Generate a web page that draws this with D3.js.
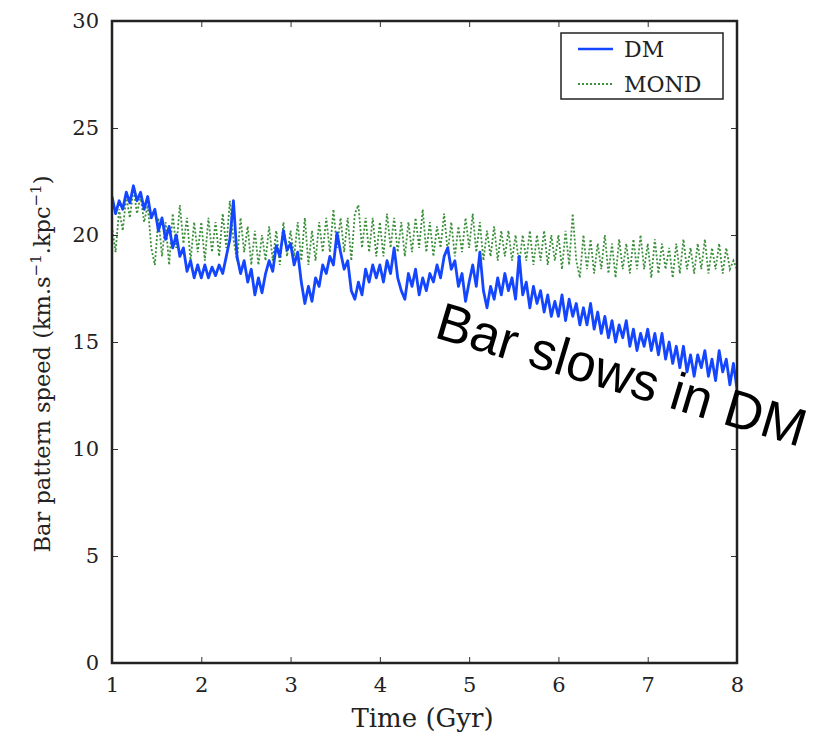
<!DOCTYPE html>
<html>
<head>
<meta charset="utf-8">
<script src="https://cdn.jsdelivr.net/npm/d3@7"></script>
<style>
    html, body { margin: 0; padding: 0; background: #fff; }
    svg { display: block; }
    .tick text { font-family: "DejaVu Serif", "Liberation Serif", serif; font-size: 21px; fill: #222; }
</style>
</head>
<body>
<svg width="837" height="742"></svg>
<script>
(function () {
    'use strict'

    // sample grid of the simulation output (Gyr)
    const timeStart = 1.0, timeStep = 0.04;

    // bar pattern speed, DM run (km/s/kpc)
    const dmSpeed = [
        21.8, 21.0, 21.6, 21.2, 22.0, 21.5, 22.3, 21.6, 22.0, 21.2, 21.8, 20.8, 21.2, 20.2, 20.8, 19.8, 20.4, 19.4, 20.0, 19.0, 19.4, 18.3, 18.8, 18.0, 18.6,
        18.0, 18.6, 18.0, 18.5, 18.1, 18.6, 18.2, 19.0, 19.8, 21.6, 19.0, 18.2, 18.8, 17.8, 18.4, 17.2, 18.0, 17.3, 18.2, 18.8, 18.3, 19.5, 19.0, 20.2, 19.3,
        19.6, 18.6, 19.2, 17.8, 16.8, 17.6, 16.9, 18.0, 17.6, 18.6, 18.2, 19.0, 18.6, 20.1, 19.2, 18.4, 18.8, 17.4, 17.0, 17.8, 17.2, 18.4, 17.8, 18.6, 18.0,
        18.6, 17.8, 18.8, 18.2, 19.4, 18.0, 17.4, 17.0, 18.2, 17.6, 18.4, 17.2, 18.0, 17.4, 18.2, 17.8, 18.6, 18.0, 19.0, 19.4, 18.4, 18.8, 17.6, 18.2, 16.9,
        17.8, 18.6, 17.6, 19.2, 17.4, 16.6, 17.6, 17.0, 18.0, 17.2, 18.2, 17.4, 18.0, 17.0, 19.0, 17.2, 17.8, 16.6, 17.6, 16.8, 17.4, 16.4, 17.2, 16.2, 16.9,
        16.2, 17.2, 16.0, 17.0, 16.2, 16.8, 15.8, 16.6, 15.8, 16.8, 15.6, 16.4, 15.4, 16.2, 15.2, 16.0, 15.0, 15.8, 15.2, 16.0, 14.8, 15.6, 14.6, 15.4, 14.8,
        15.6, 14.6, 15.4, 14.4, 15.4, 14.2, 15.0, 14.0, 14.8, 13.8, 14.8, 13.6, 14.4, 13.4, 14.4, 13.8, 14.6, 13.4, 14.2, 13.2, 14.6, 13.6, 14.2, 13.0, 14.0, 12.8
    ];

    // bar pattern speed, MOND run
    const mondSpeed = [
        20.4, 19.2, 21.2, 20.2, 21.8, 20.8, 22.2, 21.0, 21.8, 20.6, 21.4, 19.4, 18.6, 20.8, 19.0, 20.6, 18.6, 21.0, 19.4, 21.4, 19.6, 20.8, 18.8, 20.6, 19.2,
        20.6, 18.8, 20.8, 19.2, 20.6, 19.0, 21.0, 19.4, 21.6, 19.8, 18.8, 20.8, 19.2, 20.4, 18.6, 20.2, 18.6, 20.0, 18.8, 20.4, 18.8, 20.2, 18.6, 20.6, 19.0,
        20.2, 19.0, 20.6, 18.8, 20.8, 18.6, 20.2, 18.8, 20.6, 19.2, 20.8, 19.2, 21.2, 19.4, 20.8, 19.2, 20.8, 18.8, 21.0, 21.4, 19.4, 20.8, 19.2, 20.8, 19.0,
        20.6, 19.0, 21.0, 19.4, 20.8, 19.2, 20.6, 19.0, 20.6, 19.2, 20.8, 19.4, 21.2, 19.2, 20.6, 19.0, 20.4, 19.4, 21.0, 19.2, 20.6, 19.0, 20.4, 19.2, 20.8,
        19.4, 21.0, 19.2, 20.6, 18.8, 20.2, 19.0, 20.4, 18.8, 20.2, 19.0, 20.2, 18.8, 20.0, 18.6, 20.0, 18.8, 20.2, 18.6, 20.0, 18.8, 20.2, 18.6, 20.0, 18.8,
        20.0, 18.4, 20.2, 18.6, 21.0, 18.8, 18.0, 20.0, 18.4, 19.8, 18.2, 19.6, 18.4, 20.0, 18.2, 19.6, 18.0, 19.8, 18.4, 19.6, 18.2, 19.8, 18.4, 20.0, 18.4,
        19.6, 18.0, 19.8, 18.2, 19.6, 18.4, 19.4, 18.0, 19.6, 18.2, 19.8, 18.4, 19.4, 18.2, 19.6, 18.4, 19.8, 18.2, 19.4, 18.4, 19.6, 18.2, 19.4, 18.4, 18.8, 18.4
    ];

    const xTicks = [1, 2, 3, 4, 5, 6, 7, 8];
    const yTicks = [0, 5, 10, 15, 20, 25, 30];
    const seriesNames = ['DM', 'MOND'];

    let svg = d3.select('svg'),
        margin = { top: 21, right: 100, bottom: 79, left: 112 },
        width = +svg.attr('width') - margin.left - margin.right,
        height = +svg.attr('height') - margin.top - margin.bottom,
        g = svg.append('g').attr('transform', 'translate(' + margin.left + ',' + margin.top + ')');

    let x = d3.scaleLinear().domain([1, 8]).range([0, width]);
    let y = d3.scaleLinear().domain([0, 30]).range([height, 0]);

    const t = i => timeStart + i * timeStep;

    // clip so lines stay in the frame
    svg.append('defs').append('clipPath').attr('id', 'clip')
        .append('rect').attr('width', width).attr('height', height);

    let line = d3.line()
        .x((d, i) => x(t(i)))
        .y(d => y(d));

    let plot = g.append('g').attr('clip-path', 'url(#clip)');

    plot.append('path')
        .datum(mondSpeed)
        .attr('fill', 'none')
        .attr('stroke', '#3a8f3a')
        .attr('stroke-width', 1.8)
        .attr('stroke-dasharray', '2,2')
        .attr('d', line);

    plot.append('path')
        .datum(dmSpeed)
        .attr('fill', 'none')
        .attr('stroke', '#1446ff')
        .attr('stroke-width', 2.8)
        .attr('stroke-linejoin', 'round')
        .attr('d', line);

    // axes, ticks pointing inward on all four sides
    function styleAxis(sel) {
        sel.select('.domain').remove();
        sel.selectAll('.tick line').attr('stroke', '#333').attr('stroke-width', 1);
    }

    g.append('g')
        .attr('transform', 'translate(0,' + height + ')')
        .call(d3.axisBottom(x).tickValues(xTicks).tickFormat(d3.format('d'))
            .tickSizeInner(-6).tickSizeOuter(0).tickPadding(14))
        .call(styleAxis);

    g.append('g')
        .call(d3.axisTop(x).tickValues(xTicks).tickSizeInner(-6).tickSizeOuter(0).tickFormat(''))
        .call(styleAxis);

    g.append('g')
        .call(d3.axisLeft(y).tickValues(yTicks).tickSizeInner(-6).tickSizeOuter(0).tickPadding(13))
        .call(styleAxis);

    g.append('g')
        .attr('transform', 'translate(' + width + ',0)')
        .call(d3.axisRight(y).tickValues(yTicks).tickSizeInner(-6).tickSizeOuter(0).tickFormat(''))
        .call(styleAxis);

    g.append('rect')
        .attr('width', width)
        .attr('height', height)
        .attr('fill', 'none')
        .attr('stroke', '#222')
        .attr('stroke-width', 2.5);

    // axis titles
    const serif = '"DejaVu Serif", "Liberation Serif", serif';

    g.append('text')
        .attr('x', width / 2 - 2)
        .attr('y', height + 64)
        .attr('text-anchor', 'middle')
        .style('font-family', serif)
        .style('font-size', '26px')
        .style('fill', '#222')
        .text('Time (Gyr)');

    let yl = g.append('text')
        .attr('transform', 'translate(-62,' + (height / 2 + 22) + ') rotate(-90)')
        .attr('text-anchor', 'middle')
        .style('font-family', serif)
        .style('font-size', '22.5px')
        .style('fill', '#222');
    yl.append('tspan').text('Bar pattern speed (km.s');
    yl.append('tspan').attr('dy', -9).style('font-size', '15px').text('\u22121');
    yl.append('tspan').attr('dy', 9).text('.kpc');
    yl.append('tspan').attr('dy', -9).style('font-size', '15px').text('\u22121');
    yl.append('tspan').attr('dy', 9).text(')');

    // legend
    let lg = svg.append('g').attr('transform', 'translate(561,33)');
    lg.append('rect')
        .attr('width', 162).attr('height', 66)
        .attr('fill', '#fff').attr('stroke', '#222').attr('stroke-width', 1.5);

    const legendStyle = [
        { color: '#1446ff', dash: null, w: 2.4 },
        { color: '#3a8f3a', dash: '2,2', w: 1.8 }
    ];

    seriesNames.forEach((name, i) => {
        let yy = 16 + i * 35;
        lg.append('line')
            .attr('x1', 17).attr('x2', 52).attr('y1', yy).attr('y2', yy)
            .attr('stroke', legendStyle[i].color)
            .attr('stroke-width', legendStyle[i].w)
            .attr('stroke-dasharray', legendStyle[i].dash);
        lg.append('text')
            .attr('x', 63).attr('y', yy + 8)
            .style('font-family', serif)
            .style('font-size', '22px')
            .style('fill', '#222')
            .text(name);
    });

    // annotation
    svg.append('text')
        .attr('transform', 'translate(433,337) rotate(16.7)')
        .style('font-family', '"Liberation Sans", Arial, sans-serif')
        .style('font-size', '53px')
        .style('fill', '#000')
        .text('Bar slows in DM');
})();
</script>
</body>
</html>
